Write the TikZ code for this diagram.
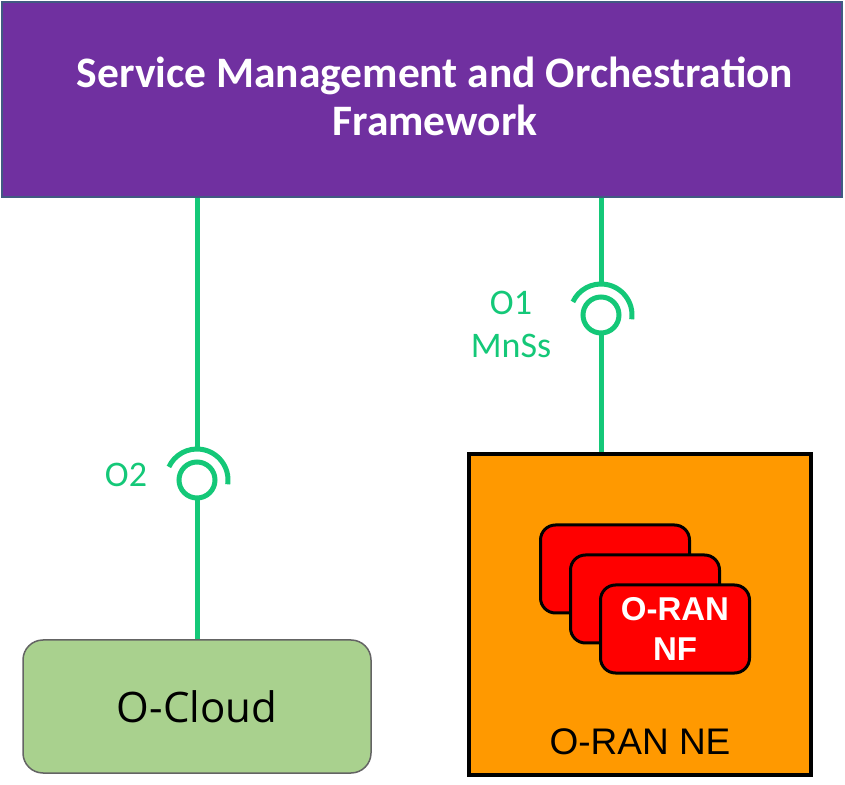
\documentclass[tikz,border=0pt]{standalone}
\usepackage{fontspec}
\setmainfont{Liberation Sans}
\newfontfamily\hildafont{Carlito}
\newfontfamily\cloudfont{Open Sans}
\usepackage{tikz}

\begin{document}
\begin{tikzpicture}[x=1pt,y=1pt,
  iface/.style={draw=linkColor,line width=5pt},
  socket/.style={circle,draw=linkColor,line width=5pt,minimum size=36pt,inner sep=0pt},
  nfcard/.style={draw=black,line width=3pt,fill=nfColor,rounded corners=15pt,minimum width=149pt,minimum height=88pt,inner sep=0pt}]
\definecolor{smoColor}{RGB}{112,48,160}
\definecolor{smoBorder}{RGB}{65,90,130}
\definecolor{linkColor}{RGB}{20,200,120}
\definecolor{cloudColor}{RGB}{169,209,142}
\definecolor{cloudBorder}{RGB}{100,100,100}
\definecolor{neColor}{RGB}{255,153,0}
\definecolor{nfColor}{RGB}{255,0,0}
\path[use as bounding box,fill=white] (0,0) rectangle (845,784);

% SMO framework
\node[fill=smoColor,draw=smoBorder,line width=1.5pt,minimum width=840pt,minimum height=195pt,inner sep=0pt] (smo) at (422,684.5) {};
\node[text=white,align=center,font=\hildafont\bfseries\fontsize{43.5}{48}\selectfont] (smotext) at (435,688) {Service Management and Orchestration\\Framework};

% O-Cloud and O-RAN NE
\node[draw=cloudBorder,line width=1.5pt,fill=cloudColor,rounded corners=20pt,minimum width=348pt,minimum height=133pt,inner sep=0pt,font=\cloudfont\fontsize{42}{44}\selectfont] (ocloud) at (197,77.5) {O-Cloud};

\node[draw=black,line width=4pt,fill=neColor,minimum width=342pt,minimum height=321pt,inner sep=0pt] (ne) at (640,169.5) {};
\node[anchor=base,inner sep=0pt,font=\fontsize{37}{40}\selectfont] (netext) at (640,30) {O-RAN NE};

\node[nfcard] (nf1) at (615,215) {};
\node[nfcard] (nf2) at (645,185) {};
\node[nfcard,text=white,align=center,font=\bfseries\fontsize{33}{40}\selectfont] (nf3) at (675,155) {O-RAN\\NF};

% O2 interface
\node[socket] (o2) at (197,304) {};
\coordinate (o2top) at ([yshift=31pt]o2.center);
\draw[iface] ([shift={(-8:31)}]o2.center) arc[start angle=-8,end angle=155,radius=31];
\draw[iface] (smo.south -| o2) -- (o2top);
\draw[iface] (o2.south) -- (ocloud.north);
\node[text=linkColor,font=\hildafont\fontsize{36}{43}\selectfont] (o2label) at (126,309) {O2};

% O1 interface
\node[socket] (o1) at (601,469) {};
\coordinate (o1top) at ([yshift=31pt]o1.center);
\draw[iface] ([shift={(-8:31)}]o1.center) arc[start angle=-8,end angle=155,radius=31];
\draw[iface] (smo.south -| o1) -- (o1top);
\draw[iface] (o1.south) -- (o1.south |- ne.north);
\node[text=linkColor,align=center,font=\hildafont\fontsize{36}{43}\selectfont] (o1label) at (511,460) {O1\\MnSs};
\end{tikzpicture}
\end{document}
